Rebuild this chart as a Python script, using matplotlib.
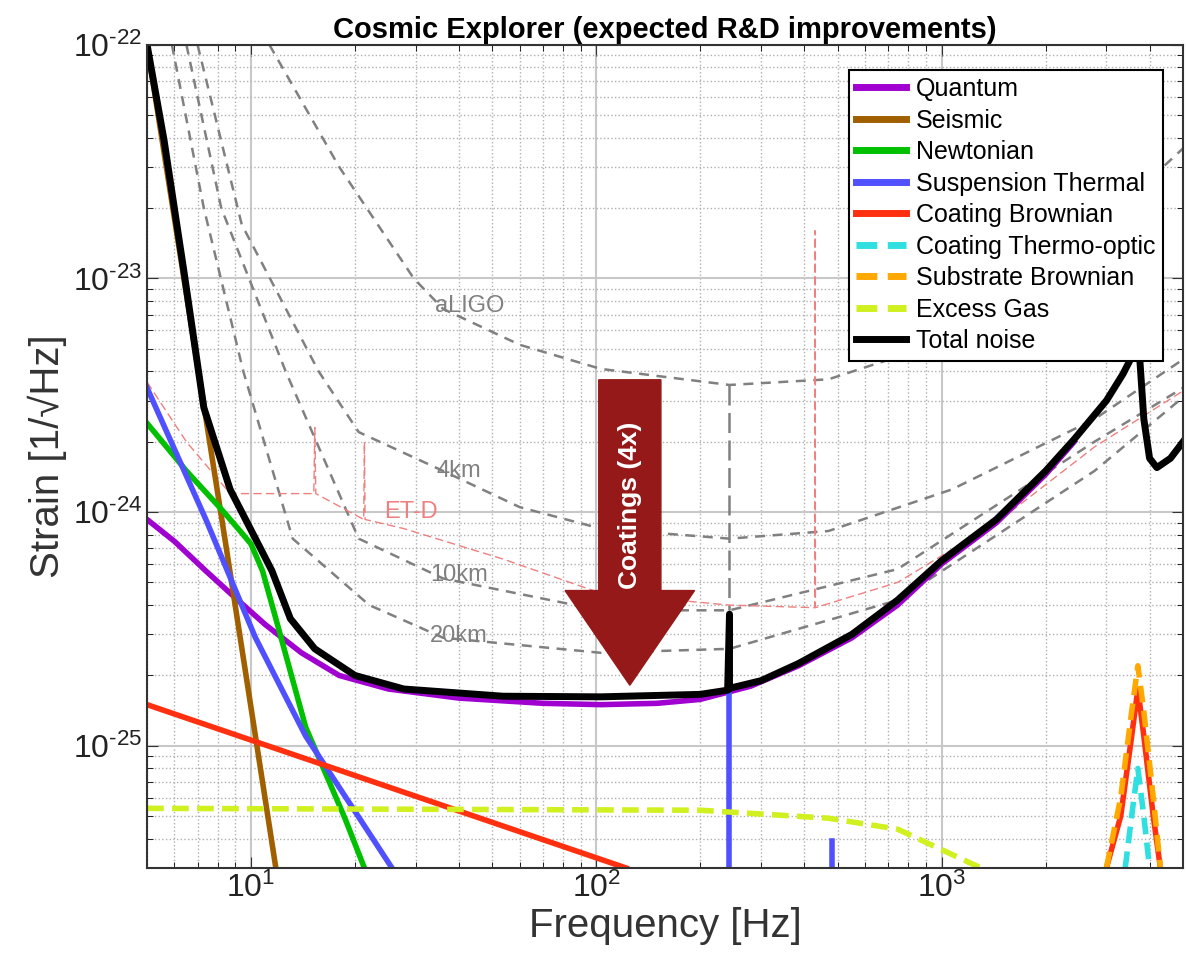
import matplotlib
matplotlib.use("Agg")
import matplotlib.pyplot as plt
from matplotlib.patches import FancyArrow
from matplotlib.ticker import FuncFormatter, LogLocator
import math

plt.rcParams['font.family'] = ['Liberation Sans', 'DejaVu Sans']
plt.rcParams['mathtext.fontset'] = 'custom'
plt.rcParams['mathtext.rm'] = 'Liberation Sans'
plt.rcParams['mathtext.it'] = 'Liberation Sans:italic'

total_f = [5, 5.6, 6.4, 7.3, 8.7, 10.3, 11.5, 13.0, 15.3, 20, 27.7, 53.6, 103, 200, 240, 243, 243, 246, 300, 385, 550, 745, 1000, 1440, 2000, 2420, 3000, 3350, 3600, 3720, 3850, 4000, 4200, 4600, 5000]
total_h = [1e-22, 3.9e-23, 1.06e-23, 2.8e-24, 1.25e-24, 7.7e-25, 5.6e-25, 3.5e-25, 2.6e-25, 2.0e-25, 1.75e-25, 1.63e-25, 1.62e-25, 1.66e-25, 1.73e-25, 3.66e-25, 1.75e-25, 1.77e-25, 1.9e-25, 2.25e-25, 3.0e-25, 4.2e-25, 6.2e-25, 9.3e-25, 1.5e-24, 2.05e-24, 3.0e-24, 3.9e-24, 4.8e-24, 5.3e-24, 2.5e-24, 1.7e-24, 1.55e-24, 1.7e-24, 2.0e-24]
quant_f = [5, 6, 7.4, 9, 11, 14, 18, 25, 40, 70, 103, 150, 200, 280, 385, 550, 745, 1000, 1440, 2000, 2420]
quant_h = [9.3e-25, 7.5e-25, 5.6e-25, 4.3e-25, 3.3e-25, 2.5e-25, 2.0e-25, 1.75e-25, 1.6e-25, 1.52e-25, 1.5e-25, 1.52e-25, 1.58e-25, 1.8e-25, 2.2e-25, 2.9e-25, 4.0e-25, 6.0e-25, 9.0e-25, 1.45e-24, 2.0e-24]
seis_f = [5, 8.4, 11.8]
seis_h = [1e-22, 7.7e-25, 3e-26]
newt_f = [5, 6.5, 8.2, 9.3, 10, 10.8, 11.8, 14.4, 18.7, 21.3]
newt_h = [2.4e-24, 1.5e-24, 1.03e-24, 8.3e-25, 7.3e-25, 5.6e-25, 3.5e-25, 1.2e-25, 4.9e-26, 3e-26]
susp_f = [5, 7.4, 10.3, 14.4, 25.6]
susp_h = [3.4e-24, 9.3e-25, 2.9e-25, 1.1e-25, 3e-26]
violin_f = [243, 480]
violin_h = [1.66e-25, 3.9e-26]
coat_f = [5, 122]
coat_h = [1.5e-25, 3e-26]
peak_f = [3000, 3300, 3550, 3700, 3850, 4100, 4300]
coat_pk = [3e-26, 5e-26, 1.1e-25, 1.75e-25, 1.1e-25, 5e-26, 3e-26]
sub_pk = [3e-26, 6e-26, 1.4e-25, 2.2e-25, 1.4e-25, 6e-26, 3e-26]
to_f = [3400, 3550, 3700, 3850, 4000]
to_pk = [3e-26, 5e-26, 8e-26, 5e-26, 3e-26]
gas_f = [5, 200, 470, 745, 1300]
gas_h = [5.4e-26, 5.3e-26, 4.9e-26, 4.4e-26, 3e-26]

ali_f = [11.3, 18, 29.6, 36, 60, 103, 243, 470, 1070, 2770, 5000]
ali_h = [1e-22, 3e-23, 1e-23, 7.4e-24, 5.2e-24, 4.1e-24, 3.5e-24, 3.7e-24, 5.5e-24, 1.6e-23, 3.6e-23]
k4_f = [7.0, 9.4, 15.7, 20.5, 36, 60, 103, 243, 470, 1070, 2770, 5000]
k4_h = [1e-22, 1.7e-23, 4e-24, 2.2e-24, 1.5e-24, 1.05e-24, 8.5e-25, 7.7e-25, 8.3e-25, 1.25e-24, 2.5e-24, 4.5e-24]
k10_f = [6.5, 8.2, 12.6, 20.5, 36, 103, 243, 745, 2770, 5000]
k10_h = [1e-22, 2e-23, 4e-24, 7.7e-25, 5.2e-25, 3.8e-25, 3.8e-25, 5.7e-25, 2e-24, 3.4e-24]
k20_f = [5.9, 7.3, 9.5, 13.2, 22, 36, 103, 243, 745, 2770, 5000]
k20_h = [1e-22, 2e-23, 4e-24, 7.7e-25, 4.0e-25, 2.9e-25, 2.5e-25, 2.6e-25, 4.2e-25, 1.5e-24, 3.1e-24]
et_f = [5, 6.5, 8.7, 15.2, 15.3, 15.4, 21.2, 21.3, 21.4, 27.7, 53.6, 103, 243, 429, 430, 431, 745, 1440, 2770, 5000]
et_h = [3.6e-24, 2.0e-24, 1.2e-24, 1.2e-24, 2.3e-24, 1.2e-24, 9.3e-25, 2.0e-24, 9.3e-25, 8.5e-25, 6.3e-25, 4.5e-25, 4.0e-25, 3.9e-25, 1.6e-23, 3.9e-25, 5.0e-25, 9.0e-25, 1.9e-24, 3.3e-24]

fig = plt.figure(figsize=(11.86, 9.72), dpi=100)
ax = fig.add_axes([0.124, 0.107, 0.8735, 0.847])
ax.set_xscale('log'); ax.set_yscale('log')
ax.set_xlim(5, 5000); ax.set_ylim(3e-26, 1e-22)

g = dict(color='#808080', ls=(0, (4, 3)), lw=1.8)
for f, h in [(ali_f, ali_h), (k4_f, k4_h), (k10_f, k10_h), (k20_f, k20_h)]:
    ax.plot(f, h, **g)
ax.plot([243, 243], [3.5e-24, 3.8e-25], color='#808080', ls=(0, (8, 3)), lw=1.8)
ax.plot(et_f, et_h, color='#f08080', ls=(0, (6, 3)), lw=1.0)
for t, x, y, c in [('aLIGO', 43, 7.6e-24, '#808080'), ('4km', 40, 1.5e-24, '#808080'),
                   ('10km', 40, 5.4e-25, '#808080'), ('20km', 40, 2.95e-25, '#808080'),
                   ('ET-D', 29, 1.0e-24, '#f08080')]:
    ax.text(x, y, t, color=c, fontsize=17, ha='center', va='center')

ax.plot(quant_f, quant_h, color='#a000d0', lw=4, label='Quantum')
ax.plot(seis_f, seis_h, color='#a06000', lw=4, label='Seismic')
ax.plot(newt_f, newt_h, color='#00c000', lw=4, label='Newtonian')
ax.plot(susp_f, susp_h, color='#5050ff', lw=4, label='Suspension Thermal')
for f, h in zip(violin_f, violin_h):
    ax.plot([f, f], [3e-26, h], color='#5050ff', lw=4)
ax.plot(coat_f, coat_h, color='#ff3010', lw=4, label='Coating Brownian')
ax.plot(peak_f, coat_pk, color='#ff3010', lw=4)
ax.plot(to_f, to_pk, color='#30e0e0', lw=4, ls=(0, (3, 1.5)), label='Coating Thermo-optic')
ax.plot(peak_f, sub_pk, color='#ffa800', lw=4, ls=(0, (3, 1.5)), label='Substrate Brownian')
ax.plot(gas_f, gas_h, color='#d0f020', lw=4, ls=(0, (3, 1.5)), label='Excess Gas')
ax.plot(total_f, total_h, color='black', lw=5, label='Total noise')

ax.add_patch(FancyArrow(0.466, 0.593, 0, -0.371, width=0.06, head_width=0.125,
                        head_length=0.115, length_includes_head=True,
                        transform=ax.transAxes, color='#951919', zorder=5))
ax.text(0.466, 0.44, 'Coatings (4x)', transform=ax.transAxes, rotation=90, color='white',
        fontsize=19, fontweight='bold', ha='center', va='center', zorder=6)

def fmt(v, pos):
    e = int(round(math.log10(v)))
    return r'$10^{\text{%d}}$' % e
ax.xaxis.set_major_locator(LogLocator(base=10))
ax.yaxis.set_major_locator(LogLocator(base=10))
ax.xaxis.set_major_formatter(FuncFormatter(fmt))
ax.yaxis.set_major_formatter(FuncFormatter(fmt))

ax.grid(True, which='major', color='#c8c8c8', lw=1.5, ls='-')
ax.grid(True, which='minor', color='#b0b0b0', lw=1.0, ls=':')
ax.tick_params(labelsize=23, which='major', length=8, direction='in', top=True, right=True, colors='#333333', labelcolor='#222222')
ax.tick_params(which='minor', direction='in', length=4, top=True, right=True)
for s in ax.spines.values():
    s.set_color('#333333'); s.set_linewidth(1.5)
ax.set_xlabel('Frequency [Hz]', fontsize=29, color='#333333', labelpad=2)
ax.set_ylabel('Strain [1/√Hz]', fontsize=29, color='#333333', labelpad=4)
ax.set_title('Cosmic Explorer (expected R&D improvements)', fontsize=21, fontweight='bold', pad=5)
leg = ax.legend(loc='upper right', fontsize=18, frameon=True, fancybox=False,
                edgecolor='black', framealpha=1, handlelength=2.0, handletextpad=0.4,
                borderpad=0.3, labelspacing=0.3, bbox_to_anchor=(0.993, 0.985))
leg.get_frame().set_linewidth(1.5)
for ln in leg.get_lines():
    ln.set_linewidth(5)
fig.savefig('out.png', dpi=100)
